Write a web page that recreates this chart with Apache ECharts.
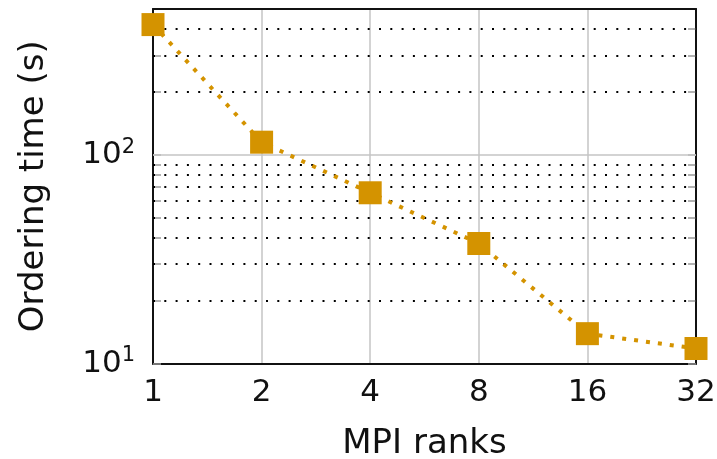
<!DOCTYPE html>
<html><head><meta charset="utf-8">
<script src="https://cdn.jsdelivr.net/npm/echarts@6/dist/echarts.min.js"></script>
<style>html,body{margin:0;padding:0;background:#fff}#c{width:717px;height:459px}</style>
</head><body><div id="c"></div>
<script>
const ranks = [1, 2, 4, 8, 16, 32];
const orderingTime = [421, 115, 65.8, 37.6, 13.9, 11.8];
const yMinorTicks = [20, 30, 40, 50, 60, 70, 80, 90, 200, 300, 400];
const yMajorGrid = [100];
const yAllTicks = [10, 20, 30, 40, 50, 60, 70, 80, 90, 100, 200, 300, 400];
const xLabel = 'MPI ranks';
const yLabel = 'Ordering time (s)';

const color = '#d49300';
const font = 'DejaVu Sans';
const frame = {show: true, lineStyle: {color: '#111', width: 2}};
const yTick = {show: true, inside: true, length: 8, customValues: yAllTicks, lineStyle: {color: '#999', width: 1.5}};
const chart = echarts.init(document.getElementById('c'), null, {renderer: 'canvas'});
chart.setOption({
  animation: false,
  backgroundColor: '#fff',
  grid: {left: 153, right: 21, top: 9, bottom: 95.5, containLabel: false, outerBoundsMode: 'none'},
  xAxis: [{
    type: 'log', logBase: 2, min: 1, max: 32,
    name: xLabel, nameLocation: 'middle', nameGap: 64, nameMoveOverlap: false,
    nameTextStyle: {fontFamily: font, fontSize: 34, color: '#111'},
    axisLine: frame,
    axisTick: {show: false},
    axisLabel: {fontFamily: font, fontSize: 31, color: '#111', margin: 14},
    splitLine: {show: true, lineStyle: {color: '#c4c4c4', width: 1.5}},
    z: 3
  }, {
    type: 'log', logBase: 2, min: 1, max: 32, position: 'top',
    axisLine: frame, axisTick: {show: false}, axisLabel: {show: false}, splitLine: {show: false}, z: 3
  }],
  yAxis: [{
    type: 'log', logBase: 10, min: 10, max: 500,
    name: yLabel, nameLocation: 'middle', nameGap: 102, nameMoveOverlap: false,
    nameTextStyle: {fontFamily: font, fontSize: 34, color: '#111'},
    axisLine: frame,
    axisTick: yTick,
    axisLabel: {
      fontFamily: font, color: '#111', margin: 18,
      customValues: [10, 100],
      formatter: function (v) {
        const e = Math.round(Math.log10(v));
        if (Math.abs(Math.pow(10, e) - v) > 1e-6) return '';
        return '{b|10}{s|' + e + '}';
      },
      rich: {
        b: {fontFamily: font, fontSize: 31, color: '#111'},
        s: {fontFamily: font, fontSize: 21, color: '#111', padding: [0, 0, 15, 0]}
      }
    },
    splitLine: {show: false},
    z: 3
  }, {
    type: 'log', logBase: 10, min: 10, max: 500, position: 'right',
    axisLine: frame,
    axisTick: yTick,
    axisLabel: {show: false}, splitLine: {show: false}, z: 3
  }],
  series: [
    {
      type: 'line', data: [], silent: true,
      markLine: {
        silent: true, symbol: 'none', label: {show: false},
        data: yMinorTicks.map(v => ({yAxis: v, lineStyle: {color: '#000', width: 2, type: [2, 9.3]}}))
          .concat(yMajorGrid.map(v => ({yAxis: v, lineStyle: {color: '#c4c4c4', width: 1.5, type: 'solid'}})))
      }
    },
    {
      type: 'line',
      data: ranks.map((r, i) => [r, orderingTime[i]]),
      symbol: 'rect', symbolSize: 23,
      itemStyle: {color: color},
      lineStyle: {color: color, width: 4, type: [4, 8]},
      z: 5
    }
  ]
});
</script></body></html>
